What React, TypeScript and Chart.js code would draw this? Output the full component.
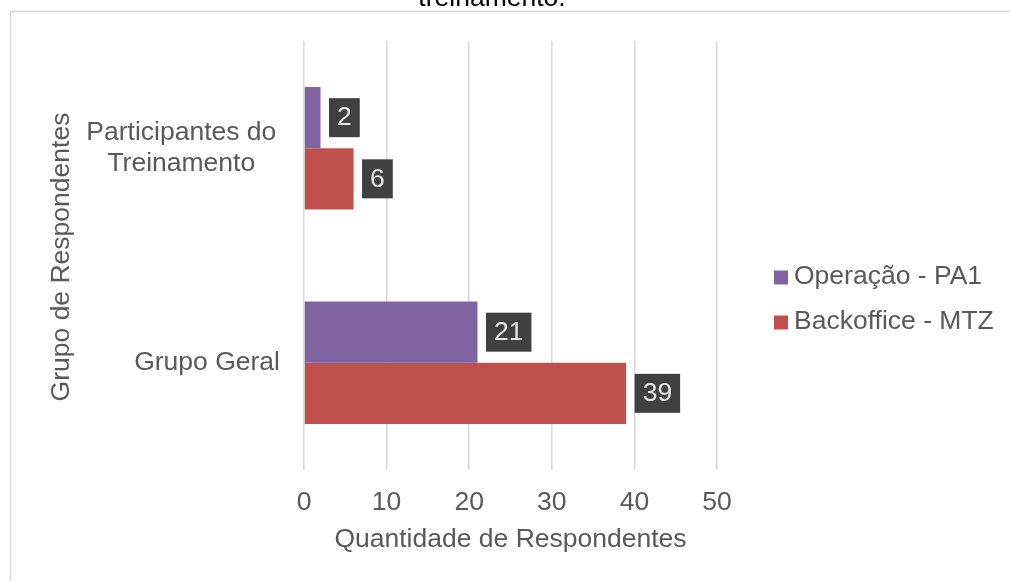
import React, { useEffect, useRef } from "react";
import { Chart, registerables } from "chart.js";

Chart.register(...registerables);

const categories: (string | string[])[] = [["Participantes do", "Treinamento"], "Grupo Geral"];
const seriesNames = ["Operação - PA1", "Backoffice - MTZ"];
const operacaoValues = [2, 21];
const backofficeValues = [6, 39];
const seriesColors = ["#8064A2", "#C0504D"];
const xTicks = [0, 10, 20, 30, 40, 50];
const titleText = "treinamento.";
const xTitle = "Quantidade de Respondentes";
const yTitle = "Grupo de Respondentes";

const FONT = "'Liberation Sans', Arial, sans-serif";
const FS = 26.5;
const GREY = "#595959";

const framePlugin = {
  id: "frame",
  beforeDraw(chart: any) {
    const ctx = chart.ctx;
    ctx.save();
    ctx.fillStyle = "#ffffff";
    ctx.fillRect(0, 0, chart.width, chart.height);
    ctx.strokeStyle = "#d9d9d9";
    ctx.lineWidth = 1.5;
    ctx.beginPath();
    ctx.moveTo(10.5, chart.height + 5);
    ctx.lineTo(10.5, 11.5);
    ctx.lineTo(chart.width + 5, 11.5);
    ctx.stroke();
    ctx.fillStyle = "#000000";
    ctx.font = `${FS}px ${FONT}`;
    ctx.textAlign = "center";
    ctx.textBaseline = "alphabetic";
    ctx.fillText(titleText, 492, 6);
    ctx.restore();
  },
};

const labelsPlugin = {
  id: "customLabels",
  afterDraw(chart: any) {
    const ctx = chart.ctx;
    const yScale = chart.scales.y;
    const area = chart.chartArea;
    ctx.save();
    ctx.font = `${FS}px ${FONT}`;
    ctx.fillStyle = GREY;
    ctx.textBaseline = "middle";
    // category labels: block right-aligned, lines centered within block
    const lineH = FS * 1.2;
    const blockRight = 280;
    chart.data.labels.forEach((lab: any, i: number) => {
      const lines: string[] = Array.isArray(lab) ? lab : [lab];
      const widths = lines.map((l) => ctx.measureText(l + (lines.length > 1 ? " " : "")).width);
      const maxW = Math.max(...widths);
      const cx = blockRight - maxW / 2;
      const cy = yScale.getPixelForValue(i);
      ctx.textAlign = "center";
      lines.forEach((l, k) => {
        const y = cy + (k - (lines.length - 1) / 2) * lineH;
        ctx.fillText(l, cx, y);
      });
    });
    // y title
    ctx.save();
    ctx.translate(62, (area.top + area.bottom) / 2 + 1.5);
    ctx.rotate(-Math.PI / 2);
    ctx.textAlign = "center";
    ctx.fillText(yTitle, 0, 0);
    ctx.restore();
    // legend
    chart.data.datasets.forEach((ds: any, i: number) => {
      const cy = 276.5 + i * 45;
      ctx.fillStyle = ds.backgroundColor;
      ctx.fillRect(774, cy - 7 + 1, 14, 14);
      ctx.fillStyle = GREY;
      ctx.textAlign = "left";
      ctx.fillText(ds.label, 794, cy);
    });
    // data labels
    chart.data.datasets.forEach((ds: any, di: number) => {
      const meta = chart.getDatasetMeta(di);
      meta.data.forEach((el: any, j: number) => {
        const txt = String(ds.data[j]);
        const w = ctx.measureText(txt).width + 16;
        const h = 39;
        const x0 = el.x + 8.5;
        const y0 = el.y - h / 2;
        ctx.fillStyle = "#404040";
        ctx.fillRect(x0, y0, w, h);
        ctx.fillStyle = "#e6e6e6";
        ctx.textAlign = "center";
        ctx.fillText(txt, x0 + w / 2, el.y + 0.5);
      });
    });
    ctx.restore();
  },
};

export default function App() {
  const ref = useRef<HTMLCanvasElement | null>(null);
  useEffect(() => {
    if (!ref.current) return;
    const chart = new Chart(ref.current, {
      type: "bar",
      data: {
        labels: categories,
        datasets: [
          {
            label: seriesNames[0],
            data: operacaoValues,
            backgroundColor: seriesColors[0],
            borderWidth: 0,
            categoryPercentage: 0.57,
            barPercentage: 1,
          },
          {
            label: seriesNames[1],
            data: backofficeValues,
            backgroundColor: seriesColors[1],
            borderWidth: 0,
            categoryPercentage: 0.57,
            barPercentage: 1,
          },
        ],
      },
      options: {
        indexAxis: "y",
        responsive: false,
        maintainAspectRatio: false,
        animation: false,
        layout: { padding: { top: 41, right: 293, left: 0, bottom: 0 } },
        plugins: {
          legend: { display: false },
          tooltip: { enabled: false },
          title: { display: false },
        },
        scales: {
          x: {
            type: "linear",
            min: xTicks[0],
            max: xTicks[xTicks.length - 1],
            afterBuildTicks: (scale: any) => {
              scale.ticks = xTicks.map((v) => ({ value: v }));
            },
            afterFit: (scale: any) => {
              scale.height = 111;
            },
            grid: { color: "#d9d9d9", lineWidth: 1.5, drawTicks: false },
            border: { display: false },
            ticks: {
              color: GREY,
              font: { family: FONT, size: FS },
              padding: 17,
            },
            title: {
              display: true,
              text: xTitle,
              color: GREY,
              font: { family: FONT, size: FS },
              padding: { top: 0, bottom: 25 },
            },
          },
          y: {
            type: "category",
            afterFit: (scale: any) => {
              scale.width = 304;
            },
            grid: { display: false },
            border: { display: false },
            ticks: { display: false },
          },
        },
      },
      plugins: [framePlugin, labelsPlugin],
    } as any);
    return () => chart.destroy();
  }, []);
  return (
    <div style={{ position: "fixed", left: 0, top: 0, width: 1010, height: 581, background: "#fff" }}>
      <canvas ref={ref} width={1010} height={581} style={{ display: "block" }} />
    </div>
  );
}
